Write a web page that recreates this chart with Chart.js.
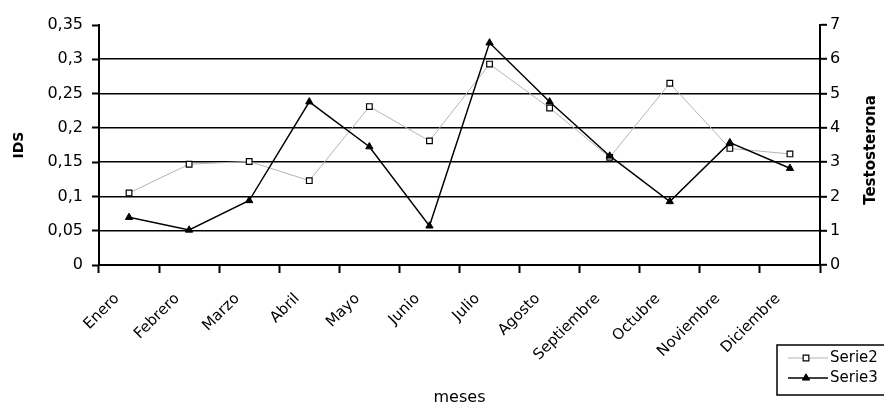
<!DOCTYPE html>
<html>
<head>
<meta charset="utf-8">
<script src="https://cdn.jsdelivr.net/npm/chart.js@4.4.1/dist/chart.umd.min.js"></script>
<style>
  html, body { margin: 0; padding: 0; background: #fff; }
  canvas { display: block; }
</style>
</head>
<body>
<canvas id="c" width="884" height="405"></canvas>
<script>
// ---- data ----
const months = ['Enero', 'Febrero', 'Marzo', 'Abril', 'Mayo', 'Junio', 'Julio', 'Agosto', 'Septiembre', 'Octubre', 'Noviembre', 'Diciembre'];
const serie2IDS = [0.105, 0.147, 0.151, 0.123, 0.231, 0.181, 0.293, 0.229, 0.157, 0.265, 0.170, 0.162];
const serie3Testosterona = [1.39, 1.02, 1.88, 4.76, 3.45, 1.14, 6.48, 4.76, 3.18, 1.85, 3.57, 2.82];
const idsTickLabels = ['0', '0,05', '0,1', '0,15', '0,2', '0,25', '0,3', '0,35'];
const testoTickLabels = ['0', '1', '2', '3', '4', '5', '6', '7'];
const seriesNames = ['Serie2', 'Serie3'];
const axisTitles = { x: 'meses', left: 'IDS', right: 'Testosterona' };

const FONT = "'DejaVu Sans', sans-serif";

const rightTitlePlugin = {
  id: 'rightTitle',
  afterDraw(chart) {
    const ctx = chart.ctx;
    const s = chart.scales.y2;
    ctx.save();
    ctx.font = "bold 15px " + FONT;
    ctx.fillStyle = '#000';
    ctx.textAlign = 'center';
    ctx.textBaseline = 'middle';
    ctx.translate(871, (s.top + s.bottom) / 2 + 5);
    ctx.rotate(-Math.PI / 2);
    ctx.fillText(axisTitles.right, 0, 0);
    ctx.restore();
  }
};

const boxLegendPlugin = {
  id: 'boxLegend',
  afterDraw(chart) {
    const ctx = chart.ctx;
    ctx.save();
    ctx.strokeStyle = '#000';
    ctx.lineWidth = 1.5;
    ctx.fillStyle = '#fff';
    ctx.fillRect(777, 345, 130, 50);
    ctx.strokeRect(777, 345, 130, 50);
    const rows = [358, 378];
    chart.data.datasets.forEach((ds, i) => {
      const y = rows[i];
      ctx.strokeStyle = ds.borderColor;
      ctx.lineWidth = ds.borderWidth;
      ctx.beginPath();
      ctx.moveTo(788, y);
      ctx.lineTo(828, y);
      ctx.stroke();
      ctx.fillStyle = ds.pointBackgroundColor;
      ctx.strokeStyle = ds.pointBorderColor;
      ctx.lineWidth = ds.pointBorderWidth;
      ctx.beginPath();
      if (ds.pointStyle === 'rect') {
        const h = ds.pointRadius * Math.SQRT1_2;
        ctx.rect(806 - h, y - h, 2 * h, 2 * h);
      } else {
        const r = ds.pointRadius;
        ctx.moveTo(806, y - r);
        ctx.lineTo(806 + r * 0.866, y + r * 0.5);
        ctx.lineTo(806 - r * 0.866, y + r * 0.5);
        ctx.closePath();
      }
      ctx.fill();
      ctx.stroke();
      ctx.fillStyle = '#000';
      ctx.font = "15px " + FONT;
      ctx.textAlign = 'left';
      ctx.textBaseline = 'middle';
      ctx.fillText(ds.label, 830, y);
    });
    ctx.restore();
  }
};

new Chart(document.getElementById('c'), {
  type: 'line',
  data: {
    labels: months,
    datasets: [
      {
        label: seriesNames[0],
        data: serie2IDS,
        yAxisID: 'y',
        borderColor: '#b4b4b4',
        borderWidth: 1,
        pointStyle: 'rect',
        pointRadius: 4,
        pointBackgroundColor: '#fff',
        pointBorderColor: '#000',
        pointBorderWidth: 1.2,
        tension: 0,
        order: 1
      },
      {
        label: seriesNames[1],
        data: serie3Testosterona,
        yAxisID: 'y2',
        borderColor: '#000',
        borderWidth: 1.5,
        pointStyle: 'triangle',
        pointRadius: 4.2,
        pointBackgroundColor: '#000',
        pointBorderColor: '#000',
        pointBorderWidth: 1,
        tension: 0,
        order: 0
      }
    ]
  },
  options: {
    responsive: false,
    animation: false,
    devicePixelRatio: 1,
    layout: { padding: { top: 25, left: 0, right: 0, bottom: 0 } },
    plugins: {
      legend: { display: false },
      tooltip: { enabled: false },
      title: { display: false }
    },
    scales: {
      x: {
        type: 'category',
        offset: true,
        grid: {
          offset: true,
          drawOnChartArea: false,
          drawTicks: true,
          tickLength: 8,
          tickColor: '#000',
          tickWidth: 2,
          color: '#000'
        },
        border: { display: true, color: '#000', width: 2 },
        ticks: {
          autoSkip: false,
          minRotation: 45,
          maxRotation: 45,
          padding: 17,
          labelOffset: -12,
          color: '#000',
          font: { family: FONT, size: 15 }
        },
        title: {
          display: true,
          text: axisTitles.x,
          color: '#000',
          font: { family: FONT, size: 16 },
          padding: { top: 0, bottom: -2 }
        },
        afterFit(scale) { scale.height = 140; }
      },
      y: {
        position: 'left',
        min: 0,
        max: 0.35,
        ticks: {
          stepSize: 0.05,
          padding: 9,
          color: '#000',
          font: { family: FONT, size: 16 },
          callback: (v, i) => idsTickLabels[i]
        },
        grid: {
          drawOnChartArea: false,
          drawTicks: true,
          tickLength: 7,
          tickColor: '#000',
          tickWidth: 2,
          color: '#000'
        },
        border: { display: true, color: '#000', width: 2 },
        title: {
          display: true,
          text: axisTitles.left,
          color: '#000',
          font: { family: FONT, size: 14, weight: 'bold' },
          padding: { top: 11, bottom: 0 }
        },
        afterFit(scale) { scale.width = 99; }
      },
      y2: {
        position: 'right',
        min: 0,
        max: 7,
        ticks: {
          stepSize: 1,
          padding: 3,
          color: '#000',
          font: { family: FONT, size: 16 },
          callback: (v, i) => testoTickLabels[i]
        },
        grid: {
          drawOnChartArea: true,
          drawTicks: true,
          tickLength: 7,
          lineWidth: 1.6,
          tickWidth: 2,
          tickColor: '#000',
          color: (c) => (c.tick && (c.tick.value === 0 || c.tick.value === 7)) ? 'rgba(0,0,0,0)' : '#000'
        },
        border: { display: true, color: '#000', width: 2 },
        afterFit(scale) { scale.width = 64; }
      }
    }
  },
  plugins: [rightTitlePlugin, boxLegendPlugin]
});
</script>
</body>
</html>
